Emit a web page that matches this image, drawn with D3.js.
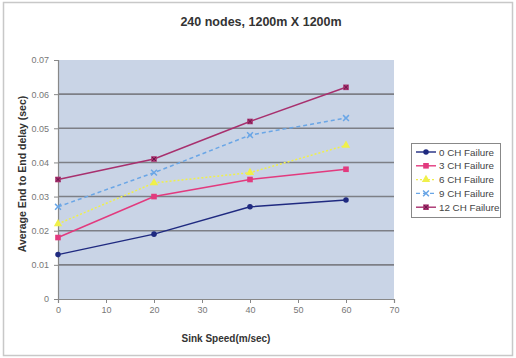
<!DOCTYPE html>
<html>
<head>
<meta charset="utf-8">
<script src="https://cdn.jsdelivr.net/npm/d3@7"></script>
<style>
  html, body { margin: 0; padding: 0; background: #fff; }
  svg { display: block; font-family: Arial, "Liberation Sans", sans-serif; }
</style>
</head>
<body>
<svg id="chart" width="516" height="358"></svg>
<script>
// Sink speed (m/sec) on the x axis
const speeds = [0, 20, 40, 60];
const seriesNames = ["0 CH Failure", "3 CH Failure", "6 CH Failure", "9 CH Failure", "12 CH Failure"];
// Average end-to-end delay (sec) per series
const delay0 = [0.013, 0.019, 0.027, 0.029];
const delay3 = [0.018, 0.030, 0.035, 0.038];
const delay6 = [0.022, 0.034, 0.037, 0.045];
const delay9 = [0.027, 0.037, 0.048, 0.053];
const delay12 = [0.035, 0.041, 0.052, 0.062];
const xTicks = [0, 10, 20, 30, 40, 50, 60, 70];
const yTicks = [0, 0.01, 0.02, 0.03, 0.04, 0.05, 0.06, 0.07];

const series = [
  { name: seriesNames[0], values: delay0, color: "#1f2a80", dash: null, marker: "diamond" },
  { name: seriesNames[1], values: delay3, color: "#e23a7e", dash: null, marker: "square" },
  { name: seriesNames[2], values: delay6, color: "#f0f04a", dash: "2,2", marker: "triangle" },
  { name: seriesNames[3], values: delay9, color: "#6aa6e6", dash: "4,3", marker: "cross" },
  { name: seriesNames[4], values: delay12, color: "#a8306e", dash: null, marker: "squareStar" }
];

const svg = d3.select("#chart");

// outer chart frame
svg.append("rect").attr("x", 3.5).attr("y", 2.5).attr("width", 509).attr("height", 353)
  .attr("fill", "#fff").attr("stroke", "#c8c8c8").attr("stroke-width", 1.5);

const plotL = 58, plotR = 394, plotT = 60, plotB = 299;
const x = d3.scaleLinear().domain([0, 70]).range([plotL, plotR]);
const y = d3.scaleLinear().domain([0, 0.07]).range([plotB, plotT]);

// plot background
svg.append("rect").attr("x", plotL).attr("y", plotT).attr("width", plotR - plotL).attr("height", plotB - plotT)
  .attr("fill", "#c9d4e6");

// horizontal gridlines
svg.append("g").selectAll("line").data(yTicks.filter(d => d > 0 && d < 0.07)).join("line")
  .attr("x1", plotL).attr("x2", plotR)
  .attr("y1", d => y(d)).attr("y2", d => y(d))
  .attr("stroke", "#7d7f86").attr("stroke-width", 1.6);

// axes
const yAxis = d3.axisLeft(y).tickValues(yTicks).tickSize(4).tickPadding(5)
  .tickFormat(d => d === 0 ? "0" : d3.format(".2f")(d));
const gy = svg.append("g").attr("transform", `translate(${plotL},0)`).call(yAxis);
const xAxis = d3.axisBottom(x).tickValues(xTicks).tickSize(4).tickPadding(4).tickFormat(d3.format("d"));
const gx = svg.append("g").attr("transform", `translate(0,${plotB})`).call(xAxis);
[gx, gy].forEach(g => {
  g.select(".domain").attr("stroke", "#888").attr("stroke-width", 1.2);
  g.selectAll(".tick line").attr("stroke", "#888");
  g.selectAll(".tick text").attr("fill", "#777").attr("font-size", 9)
    .attr("font-family", "Arial, 'Liberation Sans', sans-serif");
});

// straight segments between measured speeds
const line = d3.line().x((d, i) => x(speeds[i])).y(d => y(d));

function drawMarker(g, type, cx, cy, color) {
  if (type === "diamond") {
    g.append("path").attr("d", d3.symbol(d3.symbolCircle, 24)()).attr("transform", `translate(${cx},${cy})`)
      .attr("fill", color);
  } else if (type === "square") {
    g.append("rect").attr("x", cx - 2.8).attr("y", cy - 2.8).attr("width", 5.6).attr("height", 5.6).attr("fill", color);
  } else if (type === "triangle") {
    g.append("path").attr("d", d3.symbol(d3.symbolTriangle, 30)()).attr("transform", `translate(${cx},${cy})`)
      .attr("fill", color);
  } else if (type === "cross") {
    g.append("path").attr("d", d3.symbol(d3.symbolX, 24)()).attr("transform", `translate(${cx},${cy})`)
      .attr("fill", "none").attr("stroke", color).attr("stroke-width", 1.5);
  } else if (type === "squareStar") {
    g.append("rect").attr("x", cx - 2.8).attr("y", cy - 2.8).attr("width", 5.6).attr("height", 5.6).attr("fill", color);
    g.append("path").attr("d", d3.symbol(d3.symbolX, 12)()).attr("transform", `translate(${cx},${cy})`)
      .attr("stroke", "#5a1040").attr("stroke-width", 0.8).attr("fill", "none");
  }
}

const plot = svg.append("g");
series.forEach(s => {
  plot.append("path").datum(s.values).attr("d", line)
    .attr("fill", "none").attr("stroke", s.color).attr("stroke-width", 1.5)
    .attr("stroke-dasharray", s.dash);
  const mg = plot.append("g");
  s.values.forEach((v, i) => drawMarker(mg, s.marker, x(speeds[i]), y(v), s.color));
});

// title and axis titles
svg.append("text").attr("x", 261).attr("y", 26).attr("text-anchor", "middle")
  .attr("font-size", 12.5).attr("font-weight", "bold").attr("fill", "#333")
  .text("240 nodes, 1200m X 1200m");
svg.append("text").attr("x", 226).attr("y", 342).attr("text-anchor", "middle")
  .attr("font-size", 10).attr("font-weight", "bold").attr("fill", "#333")
  .text("Sink Speed(m/sec)");
svg.append("text").attr("transform", "translate(26,174) rotate(-90)").attr("text-anchor", "middle")
  .attr("font-size", 10.5).attr("font-weight", "bold").attr("fill", "#333")
  .text("Average End to End delay (sec)");

// legend
const lg = svg.append("g");
lg.append("rect").attr("x", 411.5).attr("y", 143.5).attr("width", 89).attr("height", 74)
  .attr("fill", "#fff").attr("stroke", "#888").attr("stroke-width", 1);
series.forEach((s, i) => {
  const ly = 152 + i * 13.8;
  lg.append("line").attr("x1", 416).attr("x2", 436).attr("y1", ly).attr("y2", ly)
    .attr("stroke", s.color).attr("stroke-width", 1.4).attr("stroke-dasharray", s.dash);
  drawMarker(lg, s.marker, 426, ly, s.color);
  lg.append("text").attr("x", 439).attr("y", ly + 3.5).attr("font-size", 9.8).attr("fill", "#444")
    .text(s.name);
});
</script>
</body>
</html>
